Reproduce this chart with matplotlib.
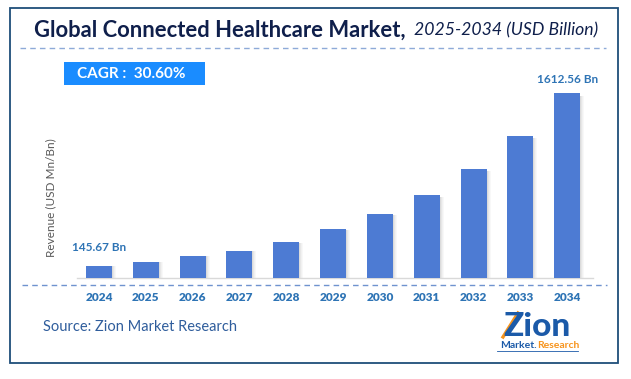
import matplotlib.pyplot as plt
from matplotlib.patches import Rectangle
from matplotlib.lines import Line2D

# data (bar heights)
years = ["2024", "2025", "2026", "2027", "2028", "2029", "2030", "2031", "2032", "2033", "2034"]
revenue = [107, 142, 192, 235, 314, 424, 555, 721, 947, 1235, 1612.56]
first_label = "145.67 Bn"
last_label = "1612.56 Bn"
cagr_text = "CAGR :  30.60%"

W, H = 631, 379
FONT = "Lato"

def fx(x):
    return x / W

def fy(y):
    return 1 - y / H

fig = plt.figure(figsize=(W / 100, H / 100), dpi=100)
fig.patch.set_facecolor("white")

# outer frame
fig.add_artist(Rectangle((fx(10), fy(363)), fx(618) - fx(10), fy(8) - fy(363),
                         fill=False, edgecolor="#1f4e79", linewidth=1.3,
                         transform=fig.transFigure))

# title
fig.text(fx(34), fy(30), "Global Connected Healthcare Market,", fontsize=15.8,
         fontweight="bold", color="#0f1f4b", family=FONT, va="center", ha="left")
fig.text(fx(598), fy(30), "2025-2034 (USD Billion)", fontsize=12.7, style="italic",
         color="#0f1f4b", family=FONT, va="center", ha="right")
fig.add_artist(Line2D([fx(20), fx(606)], [fy(47.5), fy(47.5)], color="#8eaad8",
                      linewidth=1, linestyle=(0, (4, 3)), transform=fig.transFigure))

# CAGR box
fig.add_artist(Rectangle((fx(64), fy(85)), fx(205) - fx(64), fy(62) - fy(85),
                         facecolor="#1a8cff", edgecolor="none",
                         transform=fig.transFigure))
fig.text(fx(77), fy(74), cagr_text, fontsize=11, fontweight="bold",
         color="white", family=FONT, va="center", ha="left")

# chart area
ax = fig.add_axes([fx(77), fy(278), fx(593) - fx(77), fy(60) - fy(278)])
ax.set_facecolor("none")
x = list(range(len(years)))
px = 1 / 46.8
bw = 26 * px

# soft shadow on the right of each bar
for k, a in enumerate([0.28, 0.18, 0.10, 0.05]):
    ax.bar([i + bw / 2 + (k + 0.5) * px for i in x], [v * 0.985 for v in revenue],
           width=px, color="#7f7f7f", alpha=a, linewidth=0)
ax.bar(x, revenue, width=bw, color="#4d7bd3", linewidth=0, zorder=3)

ax.set_xlim(-0.47, 10.55)
ax.set_ylim(0, 1612.56 * 218 / 185)
for s in ["top", "right", "left"]:
    ax.spines[s].set_visible(False)
ax.spines["bottom"].set_color("#d9d9d9")
ax.spines["bottom"].set_linewidth(1)
ax.set_yticks([])
ax.set_xticks(x)
ax.set_xticklabels(years, fontsize=8.5, fontweight="heavy", color="#2e74b5", family=FONT)
ax.tick_params(axis="x", length=0, pad=10)

ax.annotate(first_label, (x[0], revenue[0]), xytext=(0, 13), textcoords="offset points",
            ha="center", va="center", fontsize=8.5, fontweight="bold",
            color="#2e74b5", family=FONT)
ax.annotate(last_label, (x[-1], revenue[-1]), xytext=(0, 10), textcoords="offset points",
            ha="center", va="center", fontsize=8.5, fontweight="bold",
            color="#2e74b5", family=FONT)

# y label
fig.text(fx(51), fy(198), "Revenue (USD Mn/Bn)", rotation=90, fontsize=8.5,
         color="#595959", family=FONT, va="center", ha="center")

# dashed line under the axis
fig.add_artist(Line2D([fx(22), fx(607)], [fy(284.5), fy(284.5)], color="#6f93cf",
                      linewidth=1, linestyle=(0, (4, 3)), transform=fig.transFigure))

# source
fig.text(fx(43), fy(327), "Source: Zion Market Research", fontsize=10.5,
         color="#2f5d9c", family=FONT, va="center", ha="left")

# logo
fig.text(fx(537), fy(326), "Zion", fontsize=24, fontweight="black",
         color="#1b5aa8", family=FONT, va="center", ha="center")
fig.add_artist(Line2D([fx(503), fx(518)], [fy(337), fy(313)], color="#f7941d",
                      linewidth=2.4, transform=fig.transFigure))
fig.text(fx(537), fy(345), "Market.", fontsize=7.5, fontweight="bold",
         color="#1b5aa8", family=FONT, va="center", ha="right")
fig.text(fx(537), fy(345), "Research", fontsize=7.5, fontweight="bold",
         color="#f7941d", family=FONT, va="center", ha="left")
fig.add_artist(Line2D([fx(497), fx(578)], [fy(350.5), fy(350.5)], color="#1b5aa8",
                      linewidth=0.6, transform=fig.transFigure))

fig.savefig("out.png", dpi=100)
